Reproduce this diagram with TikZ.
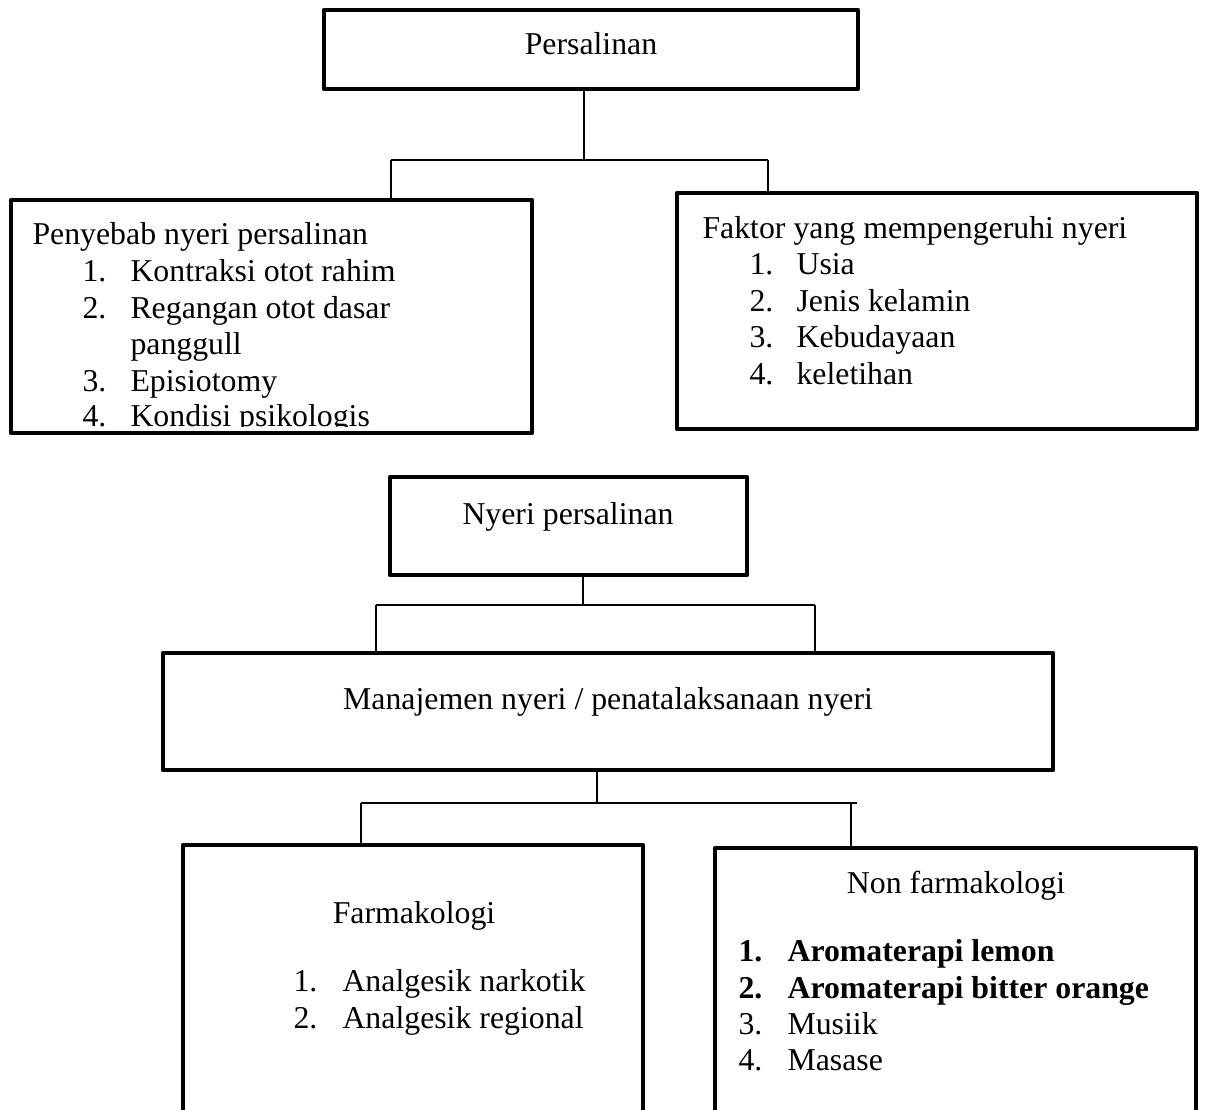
\documentclass[tikz,border=0pt]{standalone}
\usepackage{fontspec}
\setmainfont{Liberation Serif}
\usetikzlibrary{calc}

\begin{document}
\begin{tikzpicture}[x=0.3774pt,y=-0.3774pt,
  font=\fontsize{12}{13.8}\selectfont,
  box/.style={draw,rectangle,line width=1.8pt,line join=round,inner sep=0pt},
  link/.style={line width=0.55pt},
  txt/.style={inner sep=0pt,anchor=base west},
  mid/.style={inner sep=0pt,anchor=base}]
  \def\px{0.3774pt}
  \useasboundingbox (0,0) rectangle (1207,1109);

  % Boxes, sized in pixels of the page.
  \node[box,minimum width=534*\px,minimum height=79*\px] (persalinan) at (591,49.5) {};
  \node[box,minimum width=521*\px,minimum height=233*\px] (penyebab) at (271.5,316.5) {};
  \node[box,minimum width=520*\px,minimum height=236*\px] (faktor) at (937,311) {};
  \node[box,minimum width=357*\px,minimum height=98*\px] (nyeri) at (568.5,526) {};
  \node[box,minimum width=890*\px,minimum height=117*\px] (manajemen) at (608,711.5) {};
  \node[box,minimum width=460*\px,minimum height=295*\px] (farmakologi) at (413,992.5) {};
  \node[box,minimum width=481*\px,minimum height=292*\px] (nonfarmakologi) at (955.5,994) {};

  \node[mid] (persalinanLbl) at (591,54) {Persalinan};

  % Causes of labour pain; the last line is cut by the box.
  \node[txt] (penyebabLbl) at (32,244) {Penyebab nyeri persalinan};
  \begin{scope}
    \clip (0,0) rectangle (1207,426.5);
    \foreach \num/\entry/\yy [count=\i] in {1./Kontraksi otot rahim/281,
        2./Regangan otot dasar/318, 3./Episiotomy/391, 4./Kondisi psikologis/426}{
      \node[txt] (penyebabNum\i) at (82,\yy) {\num};
      \node[txt] (penyebabItem\i) at (130,\yy) {\entry};
    }
  \end{scope}
  \node[txt] (penyebabItemB) at (130,354) {panggull};

  \node[txt] (faktorLbl) at (702,238) {Faktor yang mempengeruhi nyeri};
  \foreach \num/\entry/\yy [count=\i] in {1./Usia/274.5, 2./Jenis kelamin/311,
      3./Kebudayaan/347.5, 4./keletihan/384}{
    \node[txt] (faktorNum\i) at (749,\yy) {\num};
    \node[txt] (faktorItem\i) at (796,\yy) {\entry};
  }

  \node[mid] (nyeriLbl) at (568,524) {Nyeri persalinan};
  \node[mid] (manajemenLbl) at (608,709) {Manajemen nyeri / penatalaksanaan nyeri};

  \node[mid] (farmakologiLbl) at (414,923) {Farmakologi};
  \foreach \num/\entry/\yy [count=\i] in {1./Analgesik narkotik/991,
      2./Analgesik regional/1028}{
    \node[txt] (farmakologiNum\i) at (293,\yy) {\num};
    \node[txt] (farmakologiItem\i) at (342,\yy) {\entry};
  }

  \node[mid] (nonfarmakologiLbl) at (956,893) {Non farmakologi};
  \node[txt] (nonNum1) at (738,961) {\bfseries 1.};
  \node[txt] (nonItem1) at (787,961) {\bfseries Aromaterapi lemon};
  \node[txt] (nonNum2) at (738,998) {\bfseries 2.};
  \node[txt] (nonItem2) at (787,998) {\bfseries Aromaterapi bitter orange};
  \node[txt] (nonNum3) at (738,1034) {3.};
  \node[txt] (nonItem3) at (787,1034) {Musiik};
  \node[txt] (nonNum4) at (738,1070) {4.};
  \node[txt] (nonItem4) at (787,1070) {Masase};

  % Forks between the levels.
  \coordinate (forkA) at (584,160);
  \coordinate (forkAl) at (391,160);
  \coordinate (forkAr) at (768,160);
  \draw[link] (forkA |- persalinan.south) -- (forkA);
  \draw[link] (forkAl) -- (forkAr);
  \draw[link] (forkAl) -- (forkAl |- penyebab.north);
  \draw[link] (forkAr) -- (forkAr |- faktor.north);

  \coordinate (forkB) at (583,605);
  \coordinate (forkBl) at (376,605);
  \coordinate (forkBr) at (815,605);
  \draw[link] (forkB |- nyeri.south) -- (forkB);
  \draw[link] (forkBl) -- (forkBr);
  \draw[link] (forkBl) -- (forkBl |- manajemen.north);
  \draw[link] (forkBr) -- (forkBr |- manajemen.north);

  \coordinate (forkC) at (597,803);
  \coordinate (forkCl) at (361,803);
  \coordinate (forkCr) at (851,803);
  \coordinate (forkCend) at (857,803);
  \draw[link] (forkC |- manajemen.south) -- (forkC);
  \draw[link] (forkCl) -- (forkCend);
  \draw[link] (forkCl) -- (forkCl |- farmakologi.north);
  \draw[link] (forkCr) -- (forkCr |- nonfarmakologi.north);
\end{tikzpicture}
\end{document}
